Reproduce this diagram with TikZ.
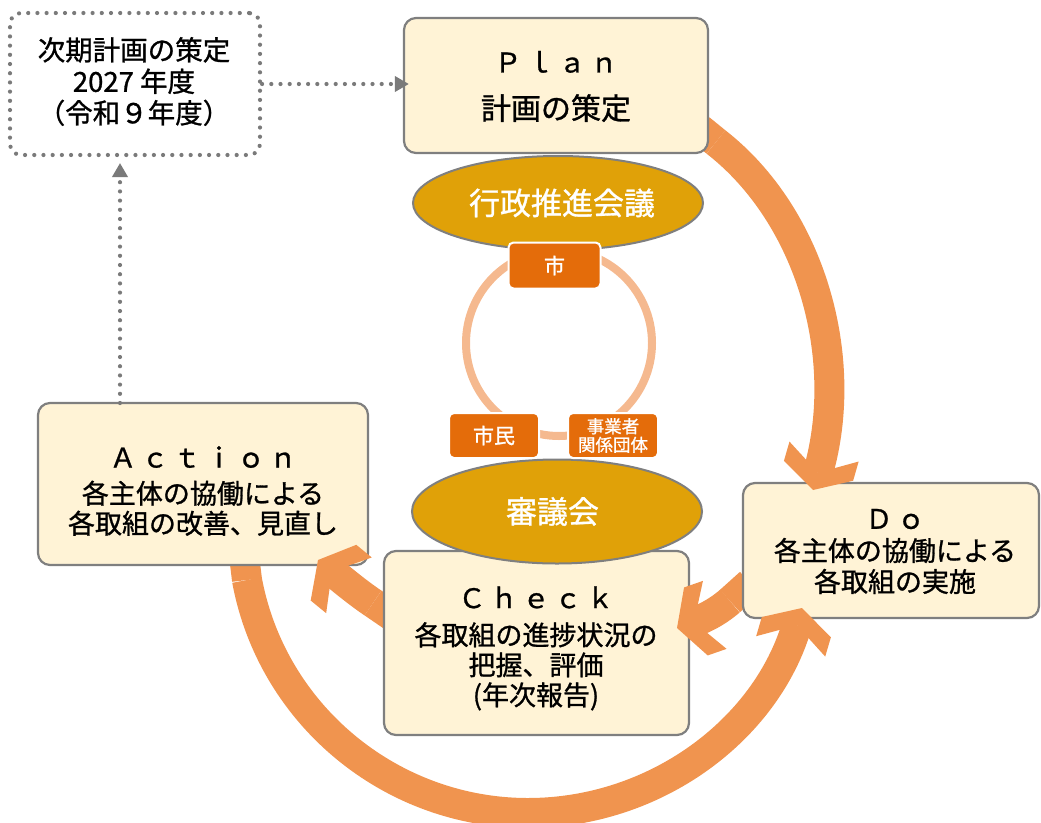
\documentclass[tikz,border=0pt]{standalone}
\usepackage{fontspec}
\setmainfont{Noto Sans CJK JP}[RawFeature={embolden=1.0}]
\usetikzlibrary{arrows.meta,shapes.geometric}
\definecolor{boxfill}{HTML}{FFF3D6}
\definecolor{boxline}{HTML}{7F7F7F}
\definecolor{gold}{HTML}{E0A108}
\definecolor{orgbox}{HTML}{E46C0A}
\definecolor{ringc}{HTML}{F5B98F}
\definecolor{arrowc}{HTML}{F0944F}
\definecolor{dotc}{HTML}{7A7A7A}
\newcommand\lgap{\kern5pt}
\pgfdeclarearrow{
  name = Chev,
  setup code = {
    \pgfarrowssettipend{0pt}
    \pgfarrowssetlineend{-18pt}
    \pgfarrowssetvisualbackend{-40pt}
    \pgfarrowssetbackend{-40pt}
    \pgfarrowshullpoint{0pt}{0pt}
    \pgfarrowsupperhullpoint{-40pt}{36pt}
  },
  drawing code = {
    \pgfsetfillcolor{arrowc}
    \pgfpathmoveto{\pgfpointorigin}
    \pgfpathlineto{\pgfpoint{-20pt}{36pt}}
    \pgfpathlineto{\pgfpoint{-40pt}{36pt}}
    \pgfpathlineto{\pgfpoint{-18pt}{0pt}}
    \pgfpathlineto{\pgfpoint{-40pt}{-36pt}}
    \pgfpathlineto{\pgfpoint{-20pt}{-36pt}}
    \pgfpathclose
    \pgfusepathqfill
  }
}
\begin{document}
\begin{tikzpicture}[x=1pt,y=-1pt,
  box/.style={draw=boxline, line width=2.2pt, fill=boxfill, rounded corners=12pt, inner sep=0pt},
  dotbox/.style={draw=dotc, line width=4.2pt, dash pattern=on 0pt off 9.2pt, line cap=round, rounded corners=11pt, fill=white, inner sep=0pt},
  txt/.style={align=center, inner sep=0pt, text=black},
  ell/.style={ellipse, draw=boxline, line width=2pt, fill=gold, inner sep=0pt, text=white},
  obox/.style={draw=white, line width=2pt, fill=orgbox, rounded corners=5pt, inner sep=0pt, text=white},
  tailband/.style={draw=arrowc, line width=30pt},
  bigarrow/.style={draw=arrowc, line width=30pt, -{Chev}},
  dotarrow/.style={draw=dotc, line width=4.2pt, dash pattern=on 0pt off 9.2pt, line cap=round, -{Triangle[length=14pt,width=15pt]}}
]
\useasboundingbox (0,0) rectangle (1041,822);

% named end points of the cycle arrows
\coordinate (a1in) at (700,129); \coordinate (a1s) at (716,142); \coordinate (a1e) at (813,490);
\coordinate (a2in) at (750,583); \coordinate (a2s) at (730,601); \coordinate (a2e) at (677,628);
\coordinate (a3in) at (392,616); \coordinate (a3s) at (373,603); \coordinate (a3e) at (318,560);
\coordinate (a4in) at (244,555); \coordinate (a4s) at (247,580); \coordinate (a4m) at (528,813); \coordinate (a4e) at (802,608);
\coordinate (d2s) at (120,403); \coordinate (d2e) at (120,163);

% next plan box and ring
\node[dotbox, minimum width=250pt, minimum height=142pt] (next) at (135,84) {};
\node[circle, draw=ringc, line width=8pt, minimum size=186pt, inner sep=0pt] (ring) at (559,343) {};

% tails of the cycle arrows (under the boxes)
\draw[tailband] (a1in) -- (a1s);
\draw[tailband] (a2in) -- (a2s);
\draw[tailband] (a3in) -- (a3s);
\draw[tailband] (a4in) -- (a4s);

% PDCA boxes
\node[box, minimum width=304pt, minimum height=135pt] (plan) at (556,85.5) {};
\node[box, minimum width=296pt, minimum height=135pt] (do) at (891,550.5) {};
\node[box, minimum width=305pt, minimum height=184pt] (check) at (536.5,643) {};
\node[box, minimum width=330pt, minimum height=162pt] (act) at (203,484) {};

% ellipses
\node[ell, minimum width=290pt, minimum height=94pt, font=\fontsize{31}{31}\selectfont] (gov) at (558,203) {\hspace*{8pt}行政推進会議};
\node[ell, minimum width=290pt, minimum height=104pt, font=\fontsize{31}{31}\selectfont] (council) at (557,511.5) {審議会\hspace*{9pt}};

% small boxes
\node[obox, minimum width=92pt, minimum height=46pt, font=\fontsize{21}{21}\selectfont] (city) at (554.5,265.5) {市};
\node[obox, minimum width=90pt, minimum height=45pt, font=\fontsize{21}{21}\selectfont] (cit) at (494,435.5) {市民};
\node[obox, minimum width=90pt, minimum height=45pt, align=center, font=\fontsize{17.5}{18.5}\selectfont] (biz) at (613,435.5) {事業者\\関係団体};

% dotted arrows
\draw[dotarrow, shorten >=-6pt] (next.east) -- (next.east -| plan.west);
\draw[dotarrow] (d2s) -- (d2e);

% cycle arrows
\draw[bigarrow] (a1s) .. controls (811,216) and (851,358) .. (a1e);
\draw[bigarrow] (a2s) .. controls (715,614) and (700,620) .. (a2e);
\draw[bigarrow] (a3s) .. controls (358,593) and (340,578) .. (a3e);
\draw[bigarrow] (a4s) .. controls (272,715) and (391,813) .. (a4m) .. controls (655,813) and (766,730) .. (a4e);

% texts
\node[txt, font=\fontsize{27.5}{31.5}\selectfont] (nextT) at (134,81.5) {次期計画の策定\\2027 年度\\（令和９年度）};
\node[txt, font=\fontsize{27}{30}\selectfont] (planT) at (556,86.5) {Ｐ\lgap ｌ\lgap ａ\lgap ｎ\\[17pt]{\fontsize{30}{30}\selectfont 計画の策定}};
\node[txt, font=\fontsize{27}{31}\selectfont] (doT) at (895,551.5) {Ｄ\lgap ｏ\\[1pt]各主体の協働による\\各取組の実施};
\node[txt, font=\fontsize{27}{30}\selectfont] (checkT) at (536,648.5) {Ｃ\lgap ｈ\lgap ｅ\lgap ｃ\lgap ｋ\\[7pt]各取組の進捗状況の\\把握、評価\\(年次報告)};
\node[txt, font=\fontsize{27}{30}\selectfont] (actT) at (203,491) {Ａ\lgap ｃ\lgap ｔ\lgap ｉ\lgap ｏ\lgap ｎ\\[6pt]各主体の協働による\\各取組の改善、見直し};
\end{tikzpicture}
\end{document}
